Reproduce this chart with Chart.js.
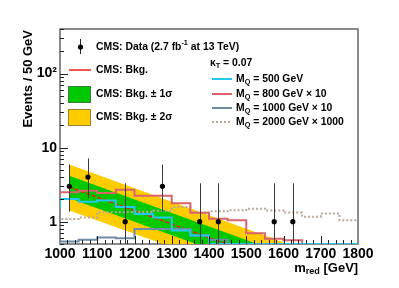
<!DOCTYPE html>
<html>
<head>
<meta charset="utf-8">
<script src="https://cdn.jsdelivr.net/npm/chart.js@4.4.1/dist/chart.umd.min.js"></script>
<style>
  html, body { margin: 0; padding: 0; background: #fff; }
  #wrap { width: 399px; height: 288px; }
</style>
</head>
<body>
<div id="wrap"><canvas id="mredChart" width="399" height="288"></canvas></div>
<script>
// bin low edges (50 GeV bins), last entry closes the last bin
const binEdges = [950, 1000, 1050, 1100, 1150, 1200, 1250, 1300, 1350, 1400,
                  1450, 1500, 1550, 1600, 1650, 1700, 1750, 1800];

// signal histograms, one value per bin (values under 0.5 sit on the axis floor)
const sig500  = [1.58, 2.03, 1.86, 1.94, 1.58, 1.27, 1.14, 0.76, 0.65, 0.5, 0.5, 0.5, 0.5, 0.5, 0.5, 0.5, 0.5];
const sig800  = [2.0, 2.49, 2.62, 2.44, 2.71, 2.24, 2.24, 1.77, 1.32, 1.1, 1.05, 0.7, 0.59, 0.56, 0.5, 0.5, 0.5];
const sig1000 = [0.5, 0.54, 0.57, 0.61, 0.6, 0.8, 0.8, 0.8, 0.65, 0.57, 0.5, 0.5, 0.5, 0.5, 0.5, 0.5, 0.5];
const sig2000 = [1.09, 1.09, 1.14, 1.34, 1.34, 1.36, 1.41, 1.58, 1.33, 1.38, 1.43, 1.5, 1.42, 1.33, 1.17, 1.29, 1.05];

// background fit and its bands (straight on the log plot)
const bandX        = [1025, 1800];
const bkgFit       = [2.94, 0.114];
const bandGreenLo  = [2.08, 0.081];
const bandGreenHi  = [4.16, 0.161];
const bandYellowLo = [1.42, 0.057];
const bandYellowHi = [5.9, 0.228];

// data points with poisson errors
const dataX    = [1025, 1075, 1175, 1275, 1375, 1425, 1575, 1625];
const dataY    = [3, 4, 1, 3, 1, 1, 1, 1];
const dataErrLo = [1.37, 2.09, 0.17, 1.37, 0.17, 0.17, 0.17, 0.17];
const dataErrHi = [5.92, 7.16, 3.30, 5.92, 3.30, 3.30, 3.30, 3.30];

const yTickLabels = {1: "1", 10: "10", 100: "10\u00b2"};

const FONT = '"Liberation Sans", Arial, Helvetica, sans-serif';
const COL_CYAN = "#22c8f0";
const COL_RED_HIST = "#d9646c";
const COL_GRAY = "#6f8ca6";
const COL_BROWN = "#bca89a";
const COL_GREEN = "#00c800";
const COL_YELLOW = "#ffcc00";
const COL_FIT = "#ee1a1a";

function stepData(values) {
    return binEdges.map((e, i) => ({x: e, y: values[Math.min(i, values.length - 1)]}));
}

function pairData(xs, ys) {
    return xs.map((x, i) => ({x: x, y: ys[i]}));
}

function histDataset(values, color, dash, order) {
    return {
        data: stepData(values),
        borderColor: color,
        borderWidth: 2,
        borderDash: dash,
        stepped: true,
        pointRadius: 0,
        fill: false,
        order: order
    };
}

// draw text pieces with sub/superscripts
function drawRich(ctx, parts, x, y, size) {
    let cx = x;
    parts.forEach(p => {
        const small = p[1] === "sub" || p[1] === "sup";
        ctx.font = "bold " + (small ? size * 0.7 : size) + "px " + FONT;
        let dy = 0;
        if (p[1] === "sub") dy = size * 0.3;
        if (p[1] === "sup") dy = -size * 0.38;
        ctx.fillText(p[0], cx, y + dy);
        cx += ctx.measureText(p[0]).width;
    });
    return cx;
}

const DATA_INDEX = 9;

const decorPlugin = {
    id: "cmsDecor",
    beforeDatasetsDraw(chart) {
        const {ctx, chartArea: a} = chart;
        ctx.save();
        ctx.strokeStyle = "#666";
        ctx.lineWidth = 1.5;
        ctx.strokeRect(a.left, a.top, a.right - a.left, a.bottom - a.top);
        ctx.restore();
    },
    beforeDatasetDraw(chart, args) {
        if (args.index !== DATA_INDEX) return;
        const {ctx, chartArea: a} = chart;
        const xs = chart.scales.x, ys = chart.scales.y;
        ctx.save();
        ctx.beginPath();
        ctx.rect(a.left, a.top, a.right - a.left, a.bottom - a.top);
        ctx.clip();
        ctx.strokeStyle = "#3a3a3a";
        ctx.lineWidth = 1;
        dataX.forEach((m, i) => {
            const px = Math.round(xs.getPixelForValue(m)) + 0.5;
            ctx.beginPath();
            ctx.moveTo(px, ys.getPixelForValue(dataErrLo[i]));
            ctx.lineTo(px, ys.getPixelForValue(dataErrHi[i]));
            ctx.stroke();
        });
        ctx.restore();
    },
    afterDatasetsDraw(chart) {
        const {ctx, chartArea: a} = chart;
        const xs = chart.scales.x, ys = chart.scales.y;
        ctx.save();
        ctx.strokeStyle = "#222";
        ctx.lineWidth = 1;
        // x ticks, every 20 GeV, inside the frame
        for (let v = 1020; v < 1800; v += 20) {
            const px = Math.round(xs.getPixelForValue(v)) + 0.5;
            const len = v % 100 === 0 ? 8 : 4;
            ctx.beginPath();
            ctx.moveTo(px, a.bottom);
            ctx.lineTo(px, a.bottom - len);
            ctx.stroke();
        }
        // y ticks on the log axis
        const yTicks = [];
        [0.1, 1, 10, 100].forEach(d => {
            for (let k = 1; k <= 9; k++) yTicks.push(k * d);
        });
        yTicks.forEach(v => {
            if (v < 0.5 || v > 400) return;
            const py = Math.round(ys.getPixelForValue(v)) + 0.5;
            const major = [1, 10, 100].includes(Math.round(v * 1000) / 1000);
            ctx.beginPath();
            ctx.moveTo(a.left, py);
            ctx.lineTo(a.left + (major ? 8 : 4), py);
            ctx.stroke();
        });
        ctx.restore();
    },
    afterDraw(chart) {
        const {ctx, chartArea: a} = chart;
        ctx.save();
        ctx.fillStyle = "#000";
        ctx.textBaseline = "middle";

        // axis titles
        ctx.save();
        ctx.translate(28, a.top + 1);
        ctx.rotate(-Math.PI / 2);
        ctx.textAlign = "right";
        ctx.font = "bold 13px " + FONT;
        ctx.fillText("Events / 50 GeV", 0, 0);
        ctx.restore();

        ctx.textAlign = "left";
        ctx.font = "bold 13px " + FONT;
        const wM = ctx.measureText("m").width;
        const wG = ctx.measureText(" [GeV]").width;
        ctx.font = "bold 9px " + FONT;
        const wR = ctx.measureText("red").width;
        drawRich(ctx, [["m"], ["red", "sub"], [" [GeV]"]], a.right - wM - wG - wR, 268, 13);

        // left legend
        const lx = 96, fs = 10.4;
        ctx.fillStyle = "#000";
        ctx.strokeStyle = "#222";
        ctx.lineWidth = 1;
        ctx.beginPath();
        ctx.moveTo(80.5, 39);
        ctx.lineTo(80.5, 54);
        ctx.stroke();
        ctx.beginPath();
        ctx.arc(80.5, 47, 2.6, 0, Math.PI * 2);
        ctx.fill();
        drawRich(ctx, [["CMS: Data (2.7 fb"], ["-1", "sup"], [" at 13 TeV)"]], lx, 47, fs);

        ctx.strokeStyle = COL_FIT;
        ctx.lineWidth = 1.5;
        ctx.beginPath();
        ctx.moveTo(69, 70);
        ctx.lineTo(91, 70);
        ctx.stroke();
        drawRich(ctx, [["CMS: Bkg."]], lx, 70, fs);

        ctx.fillStyle = COL_GREEN;
        ctx.fillRect(68.5, 86.5, 22, 16);
        ctx.strokeStyle = "#3d7d3d";
        ctx.lineWidth = 1;
        ctx.strokeRect(68.5, 86.5, 22, 16);
        ctx.fillStyle = "#000";
        drawRich(ctx, [["CMS: Bkg. \u00b1 1\u03c3"]], lx, 94, fs);

        ctx.fillStyle = COL_YELLOW;
        ctx.fillRect(68.5, 109.5, 22, 16);
        ctx.strokeStyle = "#9a8030";
        ctx.strokeRect(68.5, 109.5, 22, 16);
        ctx.fillStyle = "#000";
        drawRich(ctx, [["CMS: Bkg. \u00b1 2\u03c3"]], lx, 117, fs);

        // right legend
        drawRich(ctx, [["\u03ba"], ["T", "sub"], [" = 0.07"]], 210, 63, fs);
        const rightEntries = [
            {y: 79, color: COL_CYAN, dash: [], parts: [["M"], ["Q", "sub"], [" = 500 GeV"]]},
            {y: 94, color: COL_RED_HIST, dash: [], parts: [["M"], ["Q", "sub"], [" = 800 GeV \u00d7 10"]]},
            {y: 108, color: COL_GRAY, dash: [], parts: [["M"], ["Q", "sub"], [" = 1000 GeV \u00d7 10"]]},
            {y: 122, color: COL_BROWN, dash: [2, 2], parts: [["M"], ["Q", "sub"], [" = 2000 GeV \u00d7 1000"]]}
        ];
        rightEntries.forEach(e => {
            ctx.strokeStyle = e.color;
            ctx.lineWidth = 2;
            ctx.setLineDash(e.dash);
            ctx.beginPath();
            ctx.moveTo(212, e.y);
            ctx.lineTo(232, e.y);
            ctx.stroke();
            ctx.setLineDash([]);
            ctx.fillStyle = "#000";
            drawRich(ctx, e.parts, 236, e.y, fs);
        });
        ctx.restore();
    }
};

const ctx = document.getElementById("mredChart").getContext("2d");

new Chart(ctx, {
    type: "line",
    data: {
        datasets: [
            // 0,1: yellow band
            {data: pairData(bandX, bandYellowLo), borderWidth: 0, pointRadius: 0, fill: false, order: 10},
            {data: pairData(bandX, bandYellowHi), borderWidth: 0, pointRadius: 0,
             fill: "-1", backgroundColor: COL_YELLOW, order: 9},
            // 2,3: green band
            {data: pairData(bandX, bandGreenLo), borderWidth: 0, pointRadius: 0, fill: false, order: 8},
            {data: pairData(bandX, bandGreenHi), borderWidth: 0, pointRadius: 0,
             fill: "-1", backgroundColor: COL_GREEN, order: 7},
            // 4: background fit
            {data: pairData(bandX, bkgFit), borderColor: COL_FIT, borderWidth: 1.5,
             borderDash: [4, 2], pointRadius: 0, fill: false, order: 6},
            // 5-8: signal histograms
            histDataset(sig2000, COL_BROWN, [2, 2], 5),
            histDataset(sig1000, COL_GRAY, [], 4),
            histDataset(sig800, COL_RED_HIST, [], 3),
            histDataset(sig500, COL_CYAN, [], 2),
            // 9: data
            {data: pairData(dataX, dataY), showLine: false, pointRadius: 2.6,
             pointBackgroundColor: "#000", pointBorderWidth: 0, order: 1}
        ]
    },
    options: {
        responsive: false,
        animation: false,
        devicePixelRatio: 1,
        layout: {padding: {left: 0, right: 41, top: 29, bottom: 0}},
        plugins: {legend: {display: false}, tooltip: {enabled: false}},
        scales: {
            x: {
                type: "linear",
                min: 1000,
                max: 1800,
                grid: {display: false, drawTicks: false},
                border: {display: false},
                ticks: {
                    stepSize: 100,
                    autoSkip: false,
                    maxRotation: 0,
                    padding: 2,
                    color: "#000",
                    font: {family: FONT, size: 14, weight: "bold"},
                    callback: v => String(v)
                },
                afterFit: s => { s.height = 44; }
            },
            y: {
                type: "logarithmic",
                min: 0.5,
                max: 400,
                grid: {display: false, drawTicks: false},
                border: {display: false},
                ticks: {
                    autoSkip: false,
                    padding: 3,
                    color: "#000",
                    font: {family: FONT, size: 14, weight: "bold"},
                    callback: v => yTickLabels[v] || ""
                },
                afterFit: s => { s.width = 60; }
            }
        }
    },
    plugins: [decorPlugin]
});
</script>
</body>
</html>
